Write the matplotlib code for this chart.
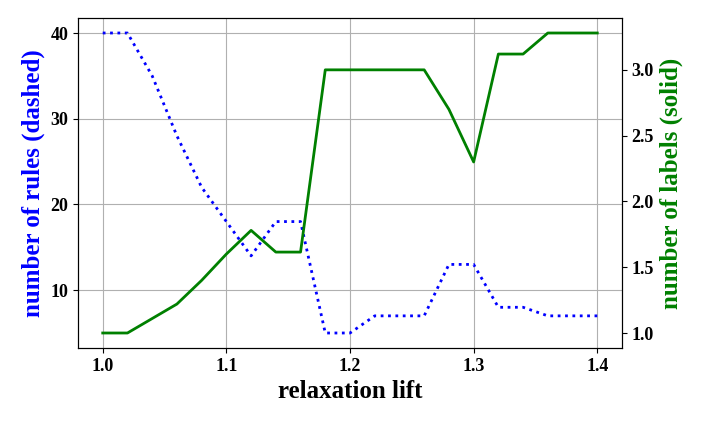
import matplotlib
matplotlib.use("Agg")
import matplotlib.pyplot as plt

plt.rcParams['font.family'] = ['Liberation Serif', 'DejaVu Serif']
plt.rcParams['font.weight'] = 'bold'

lift = [1.0, 1.02, 1.04, 1.06, 1.08, 1.10, 1.12, 1.14, 1.16, 1.18, 1.20,
        1.22, 1.24, 1.26, 1.28, 1.30, 1.32, 1.34, 1.36, 1.38, 1.40]
rules = [40, 40, 35, 28, 22, 18, 14, 18, 18, 5, 5,
         7, 7, 7, 13, 13, 8, 8, 7, 7, 7]
labels = [1.0, 1.0, 1.11, 1.22, 1.4, 1.6, 1.78, 1.615, 1.615, 3.0, 3.0,
          3.0, 3.0, 3.0, 2.7, 2.3, 3.12, 3.12, 3.28, 3.28, 3.28]

fig = plt.figure(figsize=(7.05, 4.22), dpi=100)
ax = fig.add_axes([78/705, 1-348/422, 544/705, 330/422])
ax.plot(lift, rules, color='blue', linestyle=':', linewidth=2)
ax.set_xlabel('relaxation lift', fontsize=18, fontweight='bold')
ax.set_ylabel('number of rules (dashed)', fontsize=18, fontweight='bold', color='blue')
ax.set_xticks([1.0, 1.1, 1.2, 1.3, 1.4])
ax.set_yticks([10, 20, 30, 40])
ax.tick_params(labelsize=13)
ax.grid(True, color='#b0b0b0')
ax2 = ax.twinx()
ax2.plot(lift, labels, color='green', linewidth=2)
ax2.set_ylabel('number of labels (solid)', fontsize=18, fontweight='bold', color='green')
ax2.set_yticks([1.0, 1.5, 2.0, 2.5, 3.0])
ax2.tick_params(labelsize=13)
for a in (ax, ax2):
    for t in a.get_xticklabels() + a.get_yticklabels():
        t.set_fontweight('bold')
fig.savefig('out.png', dpi=100)
